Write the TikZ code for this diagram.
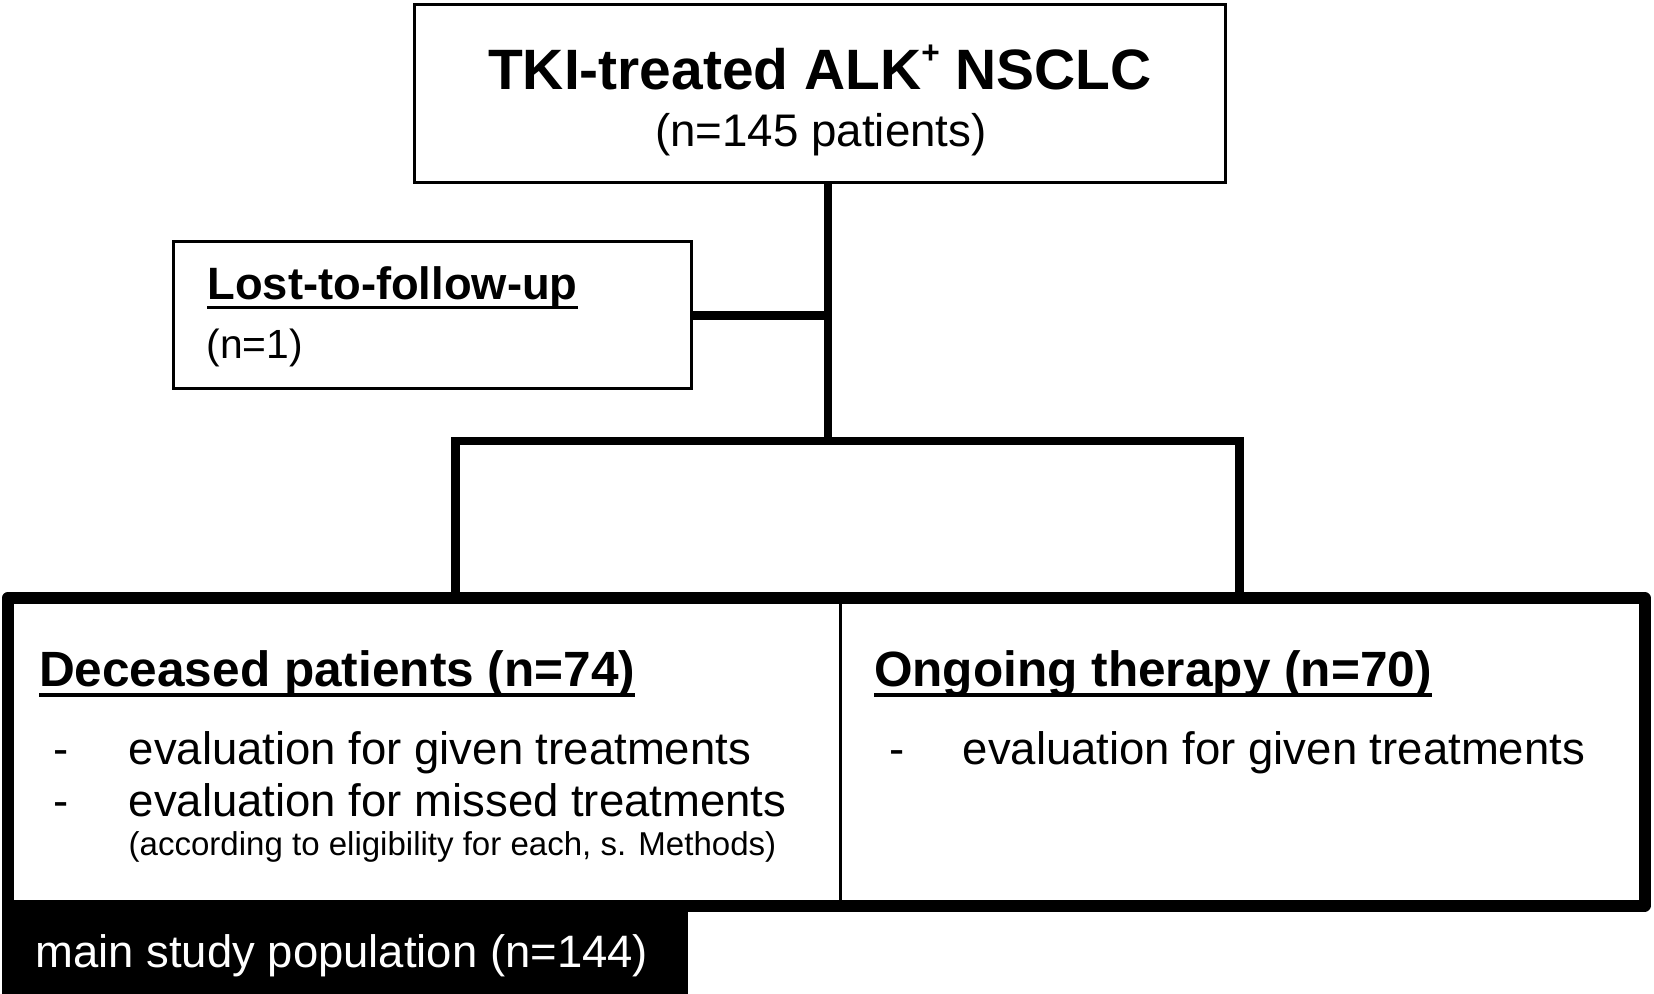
\documentclass[tikz,border=0pt]{standalone}
\usepackage{fontspec}
\setmainfont{Liberation Sans}
\newcommand{\fsz}[1]{\fontsize{#1pt}{#1pt}\selectfont}
\newcommand{\undl}[1]{\setbox0\hbox{#1}\rlap{\rule[-2.8pt]{\wd0}{1pt}}\box0}

\begin{document}
\begin{tikzpicture}[
    box/.style={draw, line width=0.8pt, inner sep=0pt},
    link/.style={line width=2.4pt},
    txt/.style={anchor=base west, inner sep=0pt},
  ]
  \useasboundingbox (0,0) rectangle (16.54,-9.94);
  % boxes
  \node[box, minimum width=8.11cm, minimum height=1.78cm] (cohort) at (8.201,-0.934) {};
  \node[box, minimum width=5.18cm, minimum height=1.47cm] (lost) at (4.322,-3.153) {};
  \node[box, line width=3.4pt, line join=round, minimum width=16.367cm, minimum height=3.075cm] (groups) at (8.262,-7.518) {};
  \node[fill=black, inner sep=0pt, minimum width=6.863cm, minimum height=0.89cm] (popbar) at (3.449,-9.495) {};

  \coordinate (split) at (8.28,-4.41);
  \coordinate (brL) at (4.557,-4.41);
  \coordinate (brR) at (12.394,-4.41);
  \coordinate (div) at (8.407,-7.5);

  % connectors
  \draw[link] (split |- cohort.south) -- (split);
  \draw[link] (lost.east) -- (lost.east -| split);
  \draw[link] (brL |- groups.north) -- (brL) -- (brR) -- (brR |- groups.north);
  \draw[line width=0.7pt] (div |- groups.north) -- (div |- groups.south);

  % texts
  \node[txt, anchor=base, font=\bfseries\fsz{16.2}] (title) at (8.20,-0.90) {TKI-treated ALK\raisebox{7.5pt}{\fsz{9}+}\ NSCLC};
  \node[txt, anchor=base, font=\fsz{13}] (count) at (8.21,-1.47) {(n=145 patients)};
  \node[txt, font=\bfseries\fsz{12.9}] (losthead) at (2.067,-2.993) {\undl{Lost-to-follow-up}};
  \node[txt, font=\fsz{11.6}] (lostn) at (2.06,-3.583) {(n=1)};

  \node[txt, font=\bfseries\fsz{14.1}] (dechead) at (0.383,-6.867) {\undl{Deceased patients (n=74)}};
  \node[txt, font=\fsz{12.95}] (decdashA) at (0.53,-7.65) {-};
  \node[txt, font=\fsz{12.95}] (decitemA) at (1.28,-7.65) {evaluation for given treatments};
  \node[txt, font=\fsz{12.95}] (decdashB) at (0.53,-8.165) {-};
  \node[txt, font=\fsz{12.95}] (decitemB) at (1.28,-8.165) {evaluation for missed treatments};
  \node[txt, font=\fsz{9.4}] (decnote) at (1.28,-8.56) {(according to eligibility for each, s. Methods)};

  \node[txt, font=\bfseries\fsz{14.1}] (onghead) at (8.734,-6.867) {\undl{Ongoing therapy (n=70)}};
  \node[txt, font=\fsz{12.95}] (ongdash) at (8.89,-7.65) {-};
  \node[txt, font=\fsz{12.95}] (ongitem) at (9.62,-7.65) {evaluation for given treatments};

  \node[txt, text=white, font=\fsz{12.93}] (poptext) at (0.348,-9.68) {main study population (n=144)};
\end{tikzpicture}
\end{document}
